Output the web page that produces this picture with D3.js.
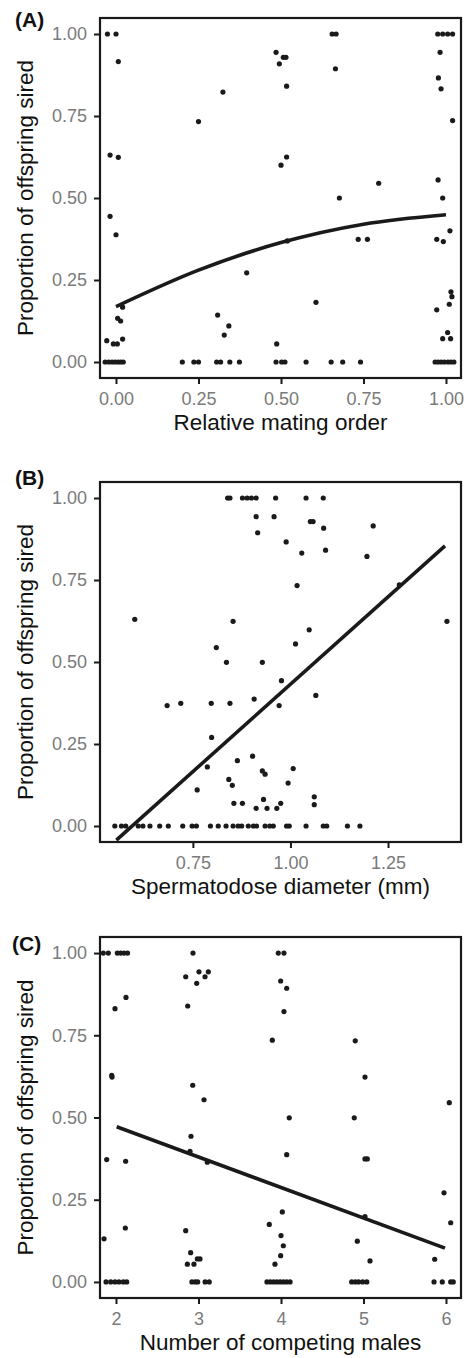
<!DOCTYPE html>
<html>
<head>
<meta charset="utf-8">
<script src="https://cdn.jsdelivr.net/npm/d3@7"></script>
<style>
  html, body { margin: 0; padding: 0; background: #fff; }
  svg { display: block; }
</style>
</head>
<body>
<svg id="chart" width="470" height="1358"></svg>
<script>
// ---------- data ----------
const panelLabels = ["(A)", "(B)", "(C)"];
const xTitles = ["Relative mating order", "Spermatodose diameter (mm)", "Number of competing males"];
const yTitle = "Proportion of offspring sired";
const yTicks = [0, 0.25, 0.5, 0.75, 1];
const xTicksA = [0, 0.25, 0.5, 0.75, 1];
const xTicksB = [0.75, 1, 1.25];
const xTicksC = [2, 3, 4, 5, 6];

const pointsA = [
  [-0.026,1],[0.0,1],[0.655,1],[0.667,1],[0.975,1],[0.99,1],[1.005,1],[1.02,1],
  [0.007,0.916],[-0.018,0.631],[0.007,0.624],[-0.018,0.444],[0.0,0.388],[0.25,0.733],[0.324,0.823],
  [0.005,0.133],[0.014,0.125],[0.02,0.167],[-0.028,0.065],[-0.008,0.055],[0.004,0.055],[0.02,0.07],
  [-0.033,0],[-0.022,0],[-0.012,0],[-0.003,0],[0.006,0],[0.014,0],[0.022,0],
  [0.201,0],[0.236,0],[0.25,0],[0.308,0.143],[0.328,0.082],[0.342,0.11],[0.305,0],[0.317,0],[0.345,0],[0.374,0],
  [0.396,0.272],[0.487,0.055],[0.485,0],[0.502,0],[0.512,0],[0.519,0.369],[0.576,0],[0.606,0.182],
  [0.652,0],[0.687,0],[0.741,0],[0.734,0.374],[0.762,0.374],
  [0.972,0.374],[0.992,0.367],[1.012,0.4],[1.015,0.214],[1.018,0.199],[1.01,0.176],[0.972,0.159],
  [1.005,0.09],[0.99,0.071],[1.014,0.071],
  [0.967,0],[0.976,0],[0.985,0],[0.995,0],[1.006,0],[1.015,0],[1.024,0],
  [0.485,0.944],[0.507,0.929],[0.515,0.929],[0.495,0.909],[0.517,0.841],[0.665,0.894],
  [0.982,0.944],[0.977,0.866],[0.985,0.833],[1.02,0.736],[0.517,0.625],[0.5,0.6],
  [0.796,0.545],[0.976,0.555],[0.677,0.5],[0.99,0.5]
];

const pointsB = [
  [0.839,1],[0.845,1],[0.877,1],[0.889,1],[0.90,1],[0.912,1],[0.962,1],[1.04,1],[1.084,1],
  [0.601,0.63],[0.853,0.624],[0.81,0.544],[0.836,0.499],
  [0.912,0.943],[0.958,0.943],[0.916,0.894],[1.051,0.928],[1.058,0.928],[1.085,0.908],[1.212,0.915],
  [0.989,0.866],[1.029,0.832],[1.09,0.841],[1.196,0.822],[1.017,0.733],[1.279,0.735],[1.401,0.624],
  [1.048,0.598],[1.013,0.555],[0.928,0.499],
  [0.684,0.367],[0.719,0.374],[0.797,0.374],[0.845,0.374],[0.798,0.27],[0.787,0.18],[0.761,0.11],
  [0.842,0.142],[0.851,0.124],[0.864,0.199],[0.855,0.069],
  [0.977,0.443],[1.065,0.398],[0.907,0.387],[0.971,0.367],[0.903,0.213],[0.928,0.168],[0.935,0.158],
  [1.007,0.175],[0.994,0.131],[0.877,0.069],[0.931,0.081],[0.912,0.054],[0.94,0.054],[0.965,0.054],
  [0.975,0.069],[1.061,0.089],[1.061,0.065],
  [0.55,0],[0.567,0],[0.578,0],[0.61,0],[0.622,0],[0.64,0],[0.665,0],[0.687,0],[0.724,0],[0.748,0],
  [0.759,0],[0.795,0],[0.815,0],[0.835,0],[0.853,0],[0.866,0],[0.875,0],[0.892,0],[0.905,0],[0.913,0],
  [0.935,0],[0.947,0],[0.956,0],[0.99,0],[0.997,0],[1.04,0],[1.084,0],[1.093,0],[1.146,0],[1.178,0]
];

const pointsC = [
  [1.846,1],[1.907,1],[2.016,1],[2.057,1],[2.097,1],[2.14,1],[1.988,0.831],[2.121,0.865],[1.948,0.628],[1.952,0.623],
  [2.933,1],[2.845,0.928],[3.006,0.943],[3.119,0.943],[3.079,0.928],[2.978,0.908],[2.869,0.839],[2.93,0.598],[3.067,0.554],
  [3.967,1],[4.036,1],[3.996,0.915],[4.069,0.893],[4.036,0.822],[3.895,0.735],[4.9,0.733],[5.018,0.623],
  [6.04,0.545],[4.1,0.499],[4.888,0.499],
  [1.887,0.372],[2.117,0.367],[2.113,0.164],[1.855,0.131],
  [1.879,0],[1.936,0],[1.988,0],[2.036,0],[2.089,0],[2.13,0],
  [2.909,0.443],[2.897,0.397],[3.107,0.364],[2.845,0.156],[2.905,0.089],[2.865,0.054],[2.945,0.054],
  [2.986,0.07],[3.018,0.07],
  [2.92,0],[2.96,0],[2.99,0],[3.08,0],[3.13,0],
  [4.069,0.387],[5.018,0.374],[5.046,0.374],[4.016,0.213],[3.858,0.175],[4.0,0.141],[4.028,0.11],
  [3.996,0.08],[3.927,0.054],
  [3.83,0],[3.87,0],[3.91,0],[3.95,0],[3.99,0],[4.03,0],[4.07,0],[4.11,0],
  [5.018,0.199],[4.925,0.124],[5.079,0.064],
  [4.857,0],[4.9,0],[4.94,0],[4.99,0],[5.04,0],
  [5.976,0.271],[6.057,0.18],[5.863,0.069],
  [5.855,0],[5.955,0],[6.057,0],[6.088,0]
];

const fitA = [[0,0.169],[0.25,0.28],[0.5,0.364],[0.75,0.42],[1,0.449]];
const fitB = [[0.554,-0.043],[1.396,0.854]];
const fitC = [[2.008,0.472],[5.988,0.103]];

// ---------- layout ----------
const panels = [
  { label: panelLabels[0], xTitle: xTitles[0], pts: pointsA, fit: fitA, xTicks: xTicksA,
    xDom: [-0.0485, 1.0455], top: 18, bottom: 378, lab: [15, 27], fmt: d3.format(".2f") },
  { label: panelLabels[1], xTitle: xTitles[1], pts: pointsB, fit: fitB, xTicks: xTicksB,
    xDom: [0.512, 1.437], top: 482, bottom: 842, lab: [15, 485], fmt: d3.format(".2f") },
  { label: panelLabels[2], xTitle: xTitles[2], pts: pointsC, fit: fitC, xTicks: xTicksC,
    xDom: [1.806, 6.182], top: 937, bottom: 1298, lab: [12, 951], fmt: d3.format("d") }
];
const left = 100, right = 461;
const ink = "#1a1a1a";
const tickGray = "#7a7a7a";
const font = "'Liberation Sans', Arial, Helvetica, sans-serif";

const svg = d3.select("#chart");

panels.forEach(p => {
  const x = d3.scaleLinear().domain(p.xDom).range([left, right]);
  const y = d3.scaleLinear().domain([-0.0488, 1.0488]).range([p.bottom, p.top]);
  const g = svg.append("g");

  // y axis
  const ya = g.append("g").attr("transform", `translate(${left},0)`)
    .call(d3.axisLeft(y).tickValues(yTicks).tickFormat(d3.format(".2f")).tickSize(6).tickPadding(7));
  // x axis
  const xa = g.append("g").attr("transform", `translate(0,${p.bottom})`)
    .call(d3.axisBottom(x).tickValues(p.xTicks).tickFormat(p.fmt).tickSize(6).tickPadding(8));
  [ya, xa].forEach(a => {
    a.select(".domain").remove();
    a.selectAll(".tick line").attr("stroke", ink).attr("stroke-width", 2);
    a.selectAll(".tick text").attr("fill", tickGray).attr("font-size", 18).attr("font-family", font);
  });

  // points
  g.append("g").selectAll("circle").data(p.pts).join("circle")
    .attr("cx", d => x(d[0])).attr("cy", d => y(d[1])).attr("r", 2.6).attr("fill", ink);

  // fitted line
  g.append("path").datum(p.fit)
    .attr("d", d3.line().x(d => x(d[0])).y(d => y(d[1])).curve(d3.curveMonotoneX))
    .attr("fill", "none").attr("stroke", ink).attr("stroke-width", 3.6);

  // frame
  g.append("rect").attr("x", left).attr("y", p.top)
    .attr("width", right - left).attr("height", p.bottom - p.top)
    .attr("fill", "none").attr("stroke", ink).attr("stroke-width", 2.2);

  // titles
  g.append("text").attr("x", (left + right) / 2).attr("y", p.bottom + 52)
    .attr("text-anchor", "middle").attr("font-size", 22.5).attr("font-family", font)
    .attr("fill", "#111").text(p.xTitle);
  g.append("text")
    .attr("transform", `translate(32.5,${(p.top + p.bottom) / 2}) rotate(-90)`)
    .attr("text-anchor", "middle").attr("font-size", 22.5).attr("font-family", font)
    .attr("fill", "#111").text(yTitle);
  g.append("text").attr("x", p.lab[0]).attr("y", p.lab[1])
    .attr("font-size", 21).attr("font-weight", "bold").attr("font-family", font)
    .attr("fill", "#111").text(p.label);
});
</script>
</body>
</html>
